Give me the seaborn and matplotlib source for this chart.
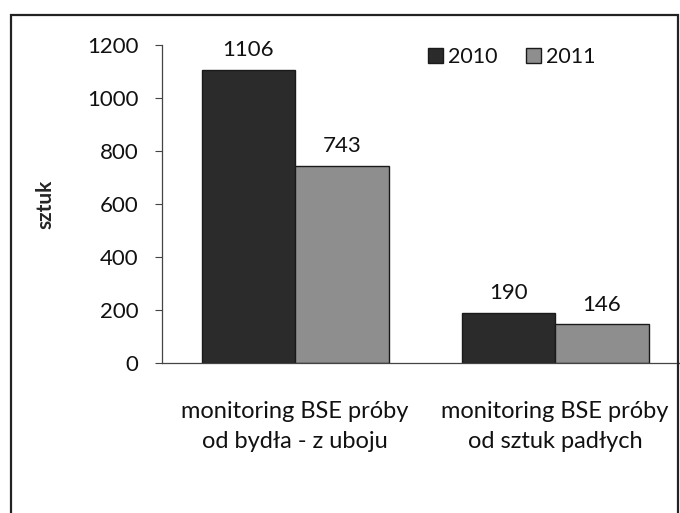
import pandas as pd
import numpy as np
import matplotlib.pyplot as plt
import matplotlib.patches as patches
import seaborn as sns

# data
kategorie = ['monitoring BSE próby\nod bydła - z uboju',
             'monitoring BSE próby\nod sztuk padłych']
lata = ['2010', '2011']
wartosci_2010 = [1106, 190]
wartosci_2011 = [743, 146]
y_ticks = [0, 200, 400, 600, 800, 1000, 1200]

df = pd.DataFrame({
    'kategoria': kategorie * 2,
    'rok': [lata[0]] * 2 + [lata[1]] * 2,
    'sztuk': wartosci_2010 + wartosci_2011,
})

sns.set_style('white')
plt.rcParams['font.family'] = ['Lato', 'DejaVu Sans']
plt.rcParams['text.color'] = '#111111'
plt.rcParams['xtick.color'] = '#111111'
plt.rcParams['ytick.color'] = '#111111'

fig = plt.figure(figsize=(6.8, 5.13), dpi=100)
ax = fig.add_axes([162 / 680, 150 / 513, 520 / 680, 318 / 513])

sns.barplot(data=df, x='kategoria', y='sztuk', hue='rok',
            palette=['#2b2b2b', '#8e8e8e'], width=0.72,
            edgecolor='#1a1a1a', linewidth=1.0, ax=ax)

for cont in ax.containers:
    ax.bar_label(cont, padding=7, fontsize=16, color='#111111')

ax.set_ylim(0, 1200)
ax.set_xlim(-0.512, 1.488)
ax.set_yticks(y_ticks)
ax.tick_params(axis='y', direction='out', length=5, width=0.8,
               color='#444444', pad=12, labelsize=16, left=True)
ax.tick_params(axis='x', length=0, pad=27, labelsize=17)
for lab in ax.get_xticklabels():
    lab.set_linespacing(1.55)
ax.set_xlabel('')
ax.set_ylabel('sztuk', fontsize=15, fontweight='bold')
ax.yaxis.set_label_coords(-0.205, 0.5)

for side in ['top', 'right']:
    ax.spines[side].set_visible(False)
for side in ['left', 'bottom']:
    ax.spines[side].set_color('#444444')
    ax.spines[side].set_linewidth(0.9)

leg = ax.legend(loc='center', bbox_to_anchor=(0.673, 0.962), ncol=2,
                frameon=False, fontsize=15.5, handlelength=0.7,
                handleheight=0.7, handletextpad=0.25, columnspacing=1.3)

# outer frame of the chart area
fig.patches.append(patches.Rectangle((11 / 680, -0.01), 667 / 680, 1.0 - 15 / 513 + 0.01,
                                     transform=fig.transFigure, fill=False,
                                     edgecolor='#222222', linewidth=1.6))

fig.savefig('out.png', dpi=100, facecolor='white')
